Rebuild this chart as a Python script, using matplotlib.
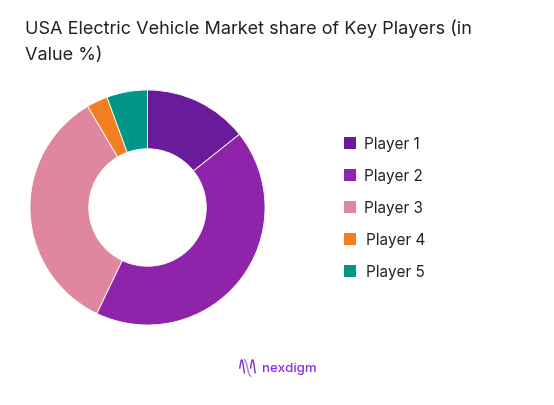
import matplotlib
matplotlib.use("Agg")
import matplotlib.pyplot as plt
from matplotlib.patches import Rectangle
import numpy as np

players = ["Player 1", "Player 2", "Player 3", "Player 4", "Player 5"]
shares = [14.3, 42.8, 34.4, 2.9, 5.6]
colors = ["#6A1B9A", "#8E24AA", "#DE879E", "#F47F20", "#009688"]

W, H = 554, 406
fig = plt.figure(figsize=(W / 100, H / 100), dpi=100)
fig.patch.set_facecolor("white")

plt.rcParams['font.family'] = ['Inter', 'DejaVu Sans']

# Title
fig.text(25 / W, 1 - 29 / H, "USA Electric Vehicle Market share of Key Players (in",
         fontsize=13, color="#222222", va="center", ha="left")
fig.text(25 / W, 1 - 56 / H, "Value %)",
         fontsize=13, color="#222222", va="center", ha="left")

# Donut
cx, cy, r = 147.5, 208.5, 117.5
ax = fig.add_axes([(cx - r) / W, (H - cy - r) / H, 2 * r / W, 2 * r / H])
ax.pie(shares, colors=colors, startangle=90, counterclock=False,
       wedgeprops=dict(width=0.5, edgecolor="white", linewidth=0.6))
ax.set_xlim(-1, 1)
ax.set_ylim(-1, 1)
ax.set_aspect("equal")
ax.axis("off")

# Legend
text_x = [364, 364, 364, 366, 366]
for i, (p, c) in enumerate(zip(players, colors)):
    y = 144 + 32 * i
    fig.patches.append(Rectangle((344 / W, 1 - (y + 6) / H), 12 / W, 12 / H,
                                 transform=fig.transFigure, facecolor=c,
                                 edgecolor="none"))
    fig.text(text_x[i] / W, 1 - (y + 1) / H, p, fontsize=11, color="#222222",
             va="center", ha="left")

# Logo
lax = fig.add_axes([239 / W, 1 - 379 / H, 17 / W, 20 / H])
t = np.linspace(0, 1, 100)
lax.plot(t * 0.3, np.sin(t * np.pi * 1.2) * 0.9, color="#7B2FBE", lw=1)
lax.plot(0.3 + t * 0.4, 0.9 - t * 1.8 + 0.2 * np.sin(t * np.pi * 2), color="#B07CE0", lw=1)
lax.plot(0.7 + t * 0.3, np.sin(t * np.pi * 1.2) * 0.9 - 0.0, color="#7B2FBE", lw=1)
lax.set_xlim(-0.05, 1.05)
lax.set_ylim(-1.1, 1.1)
lax.axis("off")
fig.text(262 / W, 1 - 369 / H, "nexdigm", fontsize=9.5, color="#8A2BE2",
         fontweight="medium", va="center", ha="left")

fig.savefig("out.png", dpi=100, facecolor="white")
